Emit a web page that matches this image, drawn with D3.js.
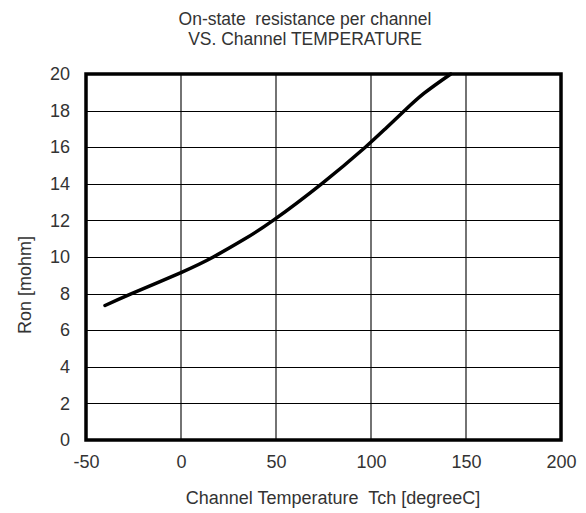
<!DOCTYPE html>
<html><head><meta charset="utf-8">
<script src="https://cdn.jsdelivr.net/npm/d3@7"></script>
<style>body{margin:0;background:#fff}svg text{font-family:"Liberation Sans",Arial,sans-serif;white-space:pre}</style>
</head><body>
<script>
const temps = [-40, -26, 0, 17, 33, 48.5, 74, 97, 108, 117.7, 128, 142];
const ron   = [7.35, 8.0, 9.15, 10.0, 10.95, 12.0, 14.0, 16.0, 17.05, 18.0, 18.95, 20.0];
const xTicks = [-50, 0, 50, 100, 150, 200];
const yTicks = [0, 2, 4, 6, 8, 10, 12, 14, 16, 18, 20];
const titleLines = ["On-state  resistance per channel", "VS. Channel TEMPERATURE"];
const xLabel = "Channel Temperature  Tch [degreeC]";
const yLabel = "Ron [mohm]";

const W = 586, H = 513;
const m = {l: 86, r: 25, t: 74, b: 73};
const FONT = "Liberation Sans, Arial, sans-serif";
const TXT = "#333";
const svg = d3.select("body").append("svg").attr("width", W).attr("height", H);
const x = d3.scaleLinear().domain([-50, 200]).range([m.l, W - m.r]);
const y = d3.scaleLinear().domain([0, 20]).range([H - m.b, m.t]);

// grid
svg.append("g").selectAll("line").data(yTicks).join("line")
  .attr("x1", m.l).attr("x2", W - m.r).attr("y1", d => Math.round(y(d)) + 0.5).attr("y2", d => Math.round(y(d)) + 0.5)
  .attr("stroke", "#000").attr("stroke-width", 1);
svg.append("g").selectAll("line").data(xTicks).join("line")
  .attr("y1", m.t).attr("y2", H - m.b).attr("x1", d => x(d)).attr("x2", d => x(d))
  .attr("stroke", "#000").attr("stroke-width", 1.1);

// axes labels via d3 axis
const xa = svg.append("g").attr("transform", `translate(0,${H - m.b})`)
  .call(d3.axisBottom(x).tickValues(xTicks).tickSize(0).tickPadding(15).tickFormat(d => String(d)));
xa.select(".domain").remove();
xa.selectAll("text").attr("font-size", 18).attr("fill", TXT).attr("font-family", FONT);
const ya = svg.append("g").attr("transform", `translate(${m.l},0)`)
  .call(d3.axisLeft(y).tickValues(yTicks).tickSize(0).tickPadding(16).tickFormat(d => String(d)));
ya.select(".domain").remove();
ya.selectAll("text").attr("font-size", 18).attr("fill", TXT).attr("font-family", FONT);

// curve
const line = d3.line().x((d, i) => x(temps[i])).y(d => y(d)).curve(d3.curveNatural);
svg.append("path").attr("d", line(ron)).attr("fill", "none").attr("stroke", "#000")
  .attr("stroke-width", 3.5).attr("stroke-linecap", "round");

// border
svg.append("rect").attr("x", m.l).attr("y", m.t).attr("width", W - m.r - m.l).attr("height", H - m.b - m.t)
  .attr("fill", "none").attr("stroke", "#000").attr("stroke-width", 3.5);

// title
svg.append("g").selectAll("text").data(titleLines).join("text")
  .attr("x", 305).attr("y", (d, i) => 25 + i * 20).attr("text-anchor", "middle")
  .attr("font-size", 17.5).attr("fill", TXT).text(d => d);
svg.append("text").attr("x", 333).attr("y", 504).attr("text-anchor", "middle")
  .attr("font-size", 18).attr("fill", TXT).text(xLabel);
svg.append("text").attr("transform", `translate(30.5,285) rotate(-90)`)
  .attr("text-anchor", "middle").attr("font-size", 18).attr("fill", TXT).text(yLabel);
</script>
</body></html>
